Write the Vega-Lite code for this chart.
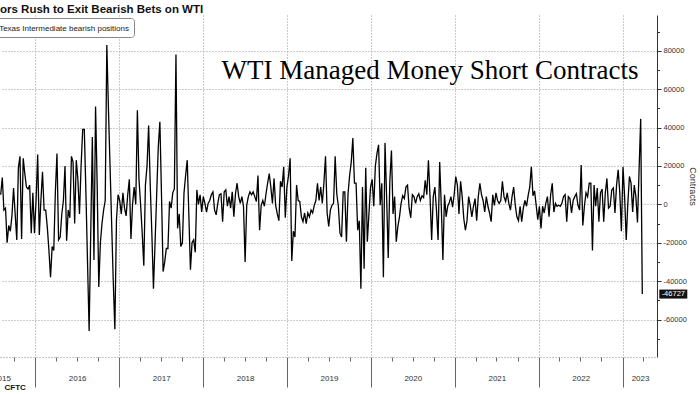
{
"$schema": "https://vega.github.io/schema/vega-lite/v6.json",
"width": 657, "height": 342,
"autosize": "none",
"padding": {"left": 0, "top": 15, "right": 43, "bottom": 37},
"background": "white",
"title": {"text": "ors Rush to Exit Bearish Bets on WTI", "anchor": "start", "frame": "group", "font": "Liberation Sans", "fontSize": 11.5, "fontWeight": "bold", "color": "#111", "baseline": "alphabetic", "offset": 1.5, "dy": 10.5},
"config": {"view": {"stroke": null}, "font": "Liberation Sans"},
"resolve": {"axis": {"x": "independent", "y": "independent"}},
"datasets": {
"wti": [
{"date":"2015-08-04","value":5000},{"date":"2015-08-11","value":14000},{"date":"2015-08-18","value":-3000},{"date":"2015-08-25","value":-2000},
{"date":"2015-09-01","value":-20000},{"date":"2015-09-08","value":-11000},{"date":"2015-09-15","value":-14000},{"date":"2015-09-22","value":-6000},{"date":"2015-09-29","value":8500},
{"date":"2015-10-06","value":-5000},{"date":"2015-10-13","value":-18500},{"date":"2015-10-20","value":19000},{"date":"2015-10-27","value":25000},
{"date":"2015-11-03","value":-18000},{"date":"2015-11-10","value":24000},{"date":"2015-11-17","value":16000},{"date":"2015-11-24","value":9000},
{"date":"2015-12-01","value":8000},{"date":"2015-12-08","value":10000},{"date":"2015-12-15","value":-15000},{"date":"2015-12-22","value":6000},{"date":"2015-12-29","value":-15000},
{"date":"2016-01-05","value":2000},{"date":"2016-01-12","value":26000},{"date":"2016-01-19","value":-16000},{"date":"2016-01-26","value":2000},
{"date":"2016-02-02","value":17000},{"date":"2016-02-09","value":-3000},{"date":"2016-02-16","value":-3000},{"date":"2016-02-23","value":-12000},
{"date":"2016-03-01","value":-24000},{"date":"2016-03-08","value":-38000},{"date":"2016-03-15","value":-22000},{"date":"2016-03-22","value":-24000},{"date":"2016-03-29","value":6500},
{"date":"2016-04-05","value":26500},{"date":"2016-04-12","value":-18500},{"date":"2016-04-19","value":-17000},{"date":"2016-04-26","value":-5000},
{"date":"2016-05-03","value":2000},{"date":"2016-05-10","value":20000},{"date":"2016-05-17","value":-19000},{"date":"2016-05-24","value":-3000},{"date":"2016-05-31","value":-7000},
{"date":"2016-06-07","value":25000},{"date":"2016-06-14","value":22000},{"date":"2016-06-21","value":-10000},{"date":"2016-06-28","value":23000},
{"date":"2016-07-05","value":13000},{"date":"2016-07-12","value":-5000},{"date":"2016-07-19","value":20000},{"date":"2016-07-26","value":39000},
{"date":"2016-08-02","value":39000},{"date":"2016-08-09","value":6000},{"date":"2016-08-16","value":-30000},{"date":"2016-08-23","value":-66000},{"date":"2016-08-30","value":-15000},
{"date":"2016-09-06","value":35000},{"date":"2016-09-13","value":-29000},{"date":"2016-09-20","value":51000},{"date":"2016-09-27","value":10000},
{"date":"2016-10-04","value":-43000},{"date":"2016-10-11","value":-20000},{"date":"2016-10-18","value":-10000},{"date":"2016-10-25","value":-3000},
{"date":"2016-11-01","value":2000},{"date":"2016-11-08","value":83000},{"date":"2016-11-15","value":50000},{"date":"2016-11-22","value":20000},{"date":"2016-11-29","value":-10000},
{"date":"2016-12-06","value":-40000},{"date":"2016-12-13","value":-65000},{"date":"2016-12-20","value":-8000},{"date":"2016-12-27","value":5000},
{"date":"2017-01-03","value":2000},{"date":"2017-01-10","value":-5000},{"date":"2017-01-17","value":6000},{"date":"2017-01-24","value":-2000},{"date":"2017-01-31","value":-6000},
{"date":"2017-02-07","value":5000},{"date":"2017-02-14","value":13000},{"date":"2017-02-21","value":-18000},{"date":"2017-02-28","value":0},
{"date":"2017-03-07","value":9000},{"date":"2017-03-14","value":0},{"date":"2017-03-21","value":49000},{"date":"2017-03-28","value":13000},
{"date":"2017-04-04","value":0},{"date":"2017-04-11","value":-15000},{"date":"2017-04-18","value":-32000},{"date":"2017-04-25","value":10000},
{"date":"2017-05-02","value":20000},{"date":"2017-05-09","value":41000},{"date":"2017-05-16","value":10000},{"date":"2017-05-23","value":-15000},{"date":"2017-05-30","value":-44000},
{"date":"2017-06-06","value":-20000},{"date":"2017-06-13","value":5000},{"date":"2017-06-20","value":30000},{"date":"2017-06-27","value":43000},
{"date":"2017-07-04","value":5000},{"date":"2017-07-11","value":-35000},{"date":"2017-07-18","value":-30000},{"date":"2017-07-25","value":-23000},
{"date":"2017-08-01","value":-23000},{"date":"2017-08-08","value":1500},{"date":"2017-08-15","value":-2000},{"date":"2017-08-22","value":6000},{"date":"2017-08-29","value":8000},
{"date":"2017-09-05","value":78000},{"date":"2017-09-12","value":-12500},{"date":"2017-09-19","value":-5000},{"date":"2017-09-26","value":-22000},
{"date":"2017-10-03","value":-20000},{"date":"2017-10-10","value":6000},{"date":"2017-10-17","value":15000},{"date":"2017-10-24","value":23000},{"date":"2017-10-31","value":-5000},
{"date":"2017-11-07","value":-34000},{"date":"2017-11-14","value":-20000},{"date":"2017-11-21","value":-18500},{"date":"2017-11-28","value":-25000},
{"date":"2017-12-05","value":7500},{"date":"2017-12-12","value":0},{"date":"2017-12-19","value":5000},{"date":"2017-12-26","value":-4000},
{"date":"2018-01-02","value":4000},{"date":"2018-01-09","value":500},{"date":"2018-01-16","value":-4000},{"date":"2018-01-23","value":500},{"date":"2018-01-30","value":2000},
{"date":"2018-02-06","value":5000},{"date":"2018-02-13","value":6500},{"date":"2018-02-20","value":-3000},{"date":"2018-02-27","value":-5500},
{"date":"2018-03-06","value":500},{"date":"2018-03-13","value":5000},{"date":"2018-03-20","value":5500},{"date":"2018-03-27","value":-9000},
{"date":"2018-04-03","value":6500},{"date":"2018-04-10","value":7500},{"date":"2018-04-17","value":-1000},{"date":"2018-04-24","value":4000},
{"date":"2018-05-01","value":-2000},{"date":"2018-05-08","value":6500},{"date":"2018-05-15","value":-6500},{"date":"2018-05-22","value":5500},{"date":"2018-05-29","value":11000},
{"date":"2018-06-05","value":4000},{"date":"2018-06-12","value":500},{"date":"2018-06-19","value":4000},{"date":"2018-06-26","value":-1000},
{"date":"2018-07-03","value":-30000},{"date":"2018-07-10","value":-500},{"date":"2018-07-17","value":4000},{"date":"2018-07-24","value":6500},{"date":"2018-07-31","value":5000},
{"date":"2018-08-07","value":6500},{"date":"2018-08-14","value":4000},{"date":"2018-08-21","value":1500},{"date":"2018-08-28","value":15000},
{"date":"2018-09-04","value":-13500},{"date":"2018-09-11","value":-500},{"date":"2018-09-18","value":2000},{"date":"2018-09-25","value":-1000},
{"date":"2018-10-02","value":5500},{"date":"2018-10-09","value":11000},{"date":"2018-10-16","value":16000},{"date":"2018-10-23","value":9000},{"date":"2018-10-30","value":500},
{"date":"2018-11-06","value":13500},{"date":"2018-11-13","value":-500},{"date":"2018-11-20","value":-5000},{"date":"2018-11-27","value":-8500},
{"date":"2018-12-04","value":12000},{"date":"2018-12-11","value":9000},{"date":"2018-12-18","value":19500},{"date":"2018-12-25","value":-7000},
{"date":"2019-01-01","value":9000},{"date":"2019-01-08","value":15000},{"date":"2019-01-15","value":24000},{"date":"2019-01-22","value":-29500},{"date":"2019-01-29","value":-14000},
{"date":"2019-02-05","value":-17000},{"date":"2019-02-12","value":10000},{"date":"2019-02-19","value":2000},{"date":"2019-02-26","value":1500},
{"date":"2019-03-05","value":-6500},{"date":"2019-03-12","value":-9000},{"date":"2019-03-19","value":-4500},{"date":"2019-03-26","value":-10000},
{"date":"2019-04-02","value":-4500},{"date":"2019-04-09","value":-6500},{"date":"2019-04-16","value":-3000},{"date":"2019-04-23","value":-4500},{"date":"2019-04-30","value":-500},
{"date":"2019-05-07","value":2000},{"date":"2019-05-14","value":11000},{"date":"2019-05-21","value":2000},{"date":"2019-05-28","value":9000},
{"date":"2019-06-04","value":500},{"date":"2019-06-11","value":11000},{"date":"2019-06-18","value":25000},{"date":"2019-06-25","value":-4500},
{"date":"2019-07-02","value":-11500},{"date":"2019-07-09","value":-3000},{"date":"2019-07-16","value":-500},{"date":"2019-07-23","value":500},{"date":"2019-07-30","value":25000},
{"date":"2019-08-06","value":5500},{"date":"2019-08-13","value":-1000},{"date":"2019-08-20","value":-15000},{"date":"2019-08-27","value":-17000},
{"date":"2019-09-03","value":6500},{"date":"2019-09-10","value":6500},{"date":"2019-09-17","value":-19500},{"date":"2019-09-24","value":5500},
{"date":"2019-10-01","value":15000},{"date":"2019-10-08","value":22000},{"date":"2019-10-15","value":34500},{"date":"2019-10-22","value":11000},{"date":"2019-10-29","value":11000},
{"date":"2019-11-05","value":-13500},{"date":"2019-11-12","value":-8500},{"date":"2019-11-19","value":-44000},{"date":"2019-11-26","value":9000},
{"date":"2019-12-03","value":-33500},{"date":"2019-12-10","value":19000},{"date":"2019-12-17","value":-19500},{"date":"2019-12-24","value":-5000},{"date":"2019-12-31","value":9000},
{"date":"2020-01-07","value":13000},{"date":"2020-01-14","value":-1000},{"date":"2020-01-21","value":20000},{"date":"2020-01-28","value":26500},
{"date":"2020-02-04","value":31000},{"date":"2020-02-11","value":-500},{"date":"2020-02-18","value":11000},{"date":"2020-02-25","value":-38000},
{"date":"2020-03-03","value":32000},{"date":"2020-03-10","value":4000},{"date":"2020-03-17","value":-28000},{"date":"2020-03-24","value":12000},{"date":"2020-03-31","value":28000},
{"date":"2020-04-07","value":-5000},{"date":"2020-04-14","value":4000},{"date":"2020-04-21","value":-19500},{"date":"2020-04-28","value":-11500},
{"date":"2020-05-05","value":-6500},{"date":"2020-05-12","value":500},{"date":"2020-05-19","value":4500},{"date":"2020-05-26","value":3000},
{"date":"2020-06-02","value":9000},{"date":"2020-06-09","value":10000},{"date":"2020-06-16","value":-2000},{"date":"2020-06-23","value":-7000},{"date":"2020-06-30","value":5000},
{"date":"2020-07-07","value":4000},{"date":"2020-07-14","value":500},{"date":"2020-07-21","value":4000},{"date":"2020-07-28","value":5500},
{"date":"2020-08-04","value":2000},{"date":"2020-08-11","value":4500},{"date":"2020-08-18","value":3500},{"date":"2020-08-25","value":12500},
{"date":"2020-09-01","value":5000},{"date":"2020-09-08","value":23000},{"date":"2020-09-15","value":4000},{"date":"2020-09-22","value":-18500},{"date":"2020-09-29","value":4000},
{"date":"2020-10-06","value":9000},{"date":"2020-10-13","value":-3000},{"date":"2020-10-20","value":-18500},{"date":"2020-10-27","value":22000},
{"date":"2020-11-03","value":-1000},{"date":"2020-11-10","value":-29000},{"date":"2020-11-17","value":5000},{"date":"2020-11-24","value":-6500},
{"date":"2020-12-01","value":-1000},{"date":"2020-12-08","value":1000},{"date":"2020-12-15","value":4000},{"date":"2020-12-22","value":-1500},{"date":"2020-12-29","value":5000},
{"date":"2021-01-05","value":14500},{"date":"2021-01-12","value":10000},{"date":"2021-01-19","value":-5000},{"date":"2021-01-26","value":12000},
{"date":"2021-02-02","value":4000},{"date":"2021-02-09","value":-7500},{"date":"2021-02-16","value":-13500},{"date":"2021-02-23","value":-8500},
{"date":"2021-03-02","value":4000},{"date":"2021-03-09","value":-500},{"date":"2021-03-16","value":-6500},{"date":"2021-03-23","value":-1000},{"date":"2021-03-30","value":3000},
{"date":"2021-04-06","value":-8500},{"date":"2021-04-13","value":4000},{"date":"2021-04-20","value":11000},{"date":"2021-04-27","value":5000},
{"date":"2021-05-04","value":2000},{"date":"2021-05-11","value":-4000},{"date":"2021-05-18","value":4000},{"date":"2021-05-25","value":-1000},
{"date":"2021-06-01","value":-4500},{"date":"2021-06-08","value":-9000},{"date":"2021-06-15","value":5000},{"date":"2021-06-22","value":-500},{"date":"2021-06-29","value":6000},
{"date":"2021-07-06","value":2000},{"date":"2021-07-13","value":500},{"date":"2021-07-20","value":2000},{"date":"2021-07-27","value":12000},
{"date":"2021-08-03","value":4000},{"date":"2021-08-10","value":1500},{"date":"2021-08-17","value":6000},{"date":"2021-08-24","value":500},{"date":"2021-08-31","value":-3000},
{"date":"2021-09-07","value":4000},{"date":"2021-09-14","value":9000},{"date":"2021-09-21","value":-500},{"date":"2021-09-28","value":-6500},
{"date":"2021-10-05","value":-8500},{"date":"2021-10-12","value":-1000},{"date":"2021-10-19","value":-9000},{"date":"2021-10-26","value":-2000},
{"date":"2021-11-02","value":2000},{"date":"2021-11-09","value":-1000},{"date":"2021-11-16","value":4500},{"date":"2021-11-23","value":9000},{"date":"2021-11-30","value":19500},
{"date":"2021-12-07","value":4500},{"date":"2021-12-14","value":7000},{"date":"2021-12-21","value":-500},{"date":"2021-12-28","value":-8000},
{"date":"2022-01-04","value":-1000},{"date":"2022-01-11","value":-12500},{"date":"2022-01-18","value":-1000},{"date":"2022-01-25","value":-4500},
{"date":"2022-02-01","value":500},{"date":"2022-02-08","value":4000},{"date":"2022-02-15","value":-6500},{"date":"2022-02-22","value":5000},
{"date":"2022-03-01","value":11000},{"date":"2022-03-08","value":-4000},{"date":"2022-03-15","value":500},{"date":"2022-03-22","value":-1000},{"date":"2022-03-29","value":-500},
{"date":"2022-04-05","value":-1000},{"date":"2022-04-12","value":500},{"date":"2022-04-19","value":4000},{"date":"2022-04-26","value":5000},
{"date":"2022-05-03","value":-9000},{"date":"2022-05-10","value":4000},{"date":"2022-05-17","value":3000},{"date":"2022-05-24","value":-4500},{"date":"2022-05-31","value":2000},
{"date":"2022-06-07","value":4000},{"date":"2022-06-14","value":5500},{"date":"2022-06-21","value":-500},{"date":"2022-06-28","value":-3000},
{"date":"2022-07-05","value":20500},{"date":"2022-07-12","value":-11000},{"date":"2022-07-19","value":-1000},{"date":"2022-07-26","value":6000},
{"date":"2022-08-02","value":4000},{"date":"2022-08-09","value":11000},{"date":"2022-08-16","value":11000},{"date":"2022-08-23","value":-24000},{"date":"2022-08-30","value":10000},
{"date":"2022-09-06","value":-1000},{"date":"2022-09-13","value":8500},{"date":"2022-09-20","value":-9000},{"date":"2022-09-27","value":6000},
{"date":"2022-10-04","value":8000},{"date":"2022-10-11","value":-9000},{"date":"2022-10-18","value":6000},{"date":"2022-10-25","value":13500},
{"date":"2022-11-01","value":-2000},{"date":"2022-11-08","value":-1000},{"date":"2022-11-15","value":7500},{"date":"2022-11-22","value":8500},{"date":"2022-11-29","value":-4500},
{"date":"2022-12-06","value":10000},{"date":"2022-12-13","value":18000},{"date":"2022-12-20","value":6000},{"date":"2022-12-27","value":-14000},
{"date":"2023-01-03","value":19500},{"date":"2023-01-10","value":4000},{"date":"2023-01-17","value":-18500},{"date":"2023-01-24","value":500},{"date":"2023-01-31","value":14500},
{"date":"2023-02-07","value":11000},{"date":"2023-02-14","value":-4000},{"date":"2023-02-21","value":10000},{"date":"2023-02-28","value":4000},
{"date":"2023-03-07","value":-9500},{"date":"2023-03-14","value":18000},{"date":"2023-03-21","value":44500},{"date":"2023-03-28","value":-46727}
],
"note": [{"date": "2023-03-11", "value": 65300, "label": "WTI Managed Money Short Contracts"}]
},
"layer": [
{
"data": {"name": "wti"},
"mark": {"type": "line", "strokeWidth": 1.3, "interpolate": "linear"},
"encoding": {
"x": {"field": "date", "type": "temporal",
 "scale": {"type": "utc", "domain": [{"year": 2015, "month": 8, "date": 1, "utc": true}, {"year": 2023, "month": 5, "date": 31, "utc": true}]},
 "axis": {
  "orient": "bottom",
  "title": "CFTC", "titleFont": "Liberation Sans", "titleFontSize": 8, "titleFontWeight": "bold", "titleColor": "#111",
  "titleAnchor": "start", "titleAlign": "left", "titleX": 4, "titleY": 30, "titleBaseline": "middle",
  "values": [
   {"year": 2015, "month": 8, "date": 1, "utc": true},
   {"year": 2016, "month": 1, "date": 1, "utc": true}, {"year": 2017, "month": 1, "date": 1, "utc": true},
   {"year": 2018, "month": 1, "date": 1, "utc": true}, {"year": 2019, "month": 1, "date": 1, "utc": true},
   {"year": 2020, "month": 1, "date": 1, "utc": true}, {"year": 2021, "month": 1, "date": 1, "utc": true},
   {"year": 2022, "month": 1, "date": 1, "utc": true}, {"year": 2023, "month": 1, "date": 1, "utc": true}
  ],
  "labelExpr": "utcmonth(datum.value) == 0 ? utcFormat(datum.value, '%Y') : '2015'",
  "labelFont": "Liberation Sans", "labelFontSize": 8, "labelColor": "#333",
  "labelOffset": {"condition": [{"test": "utcyear(datum.value) == 2015", "value": 1.5}, {"test": "utcyear(datum.value) == 2023", "value": 17.5}], "value": 42},
  "labelPadding": -13, "labelFlush": false, "labelOverlap": false, "labelBound": false,
  "tickSize": 30,
  "tickColor": "#666",
  "tickOpacity": {"condition": {"test": "utcyear(datum.value) == 2015", "value": 0}, "value": 1},
  "grid": true,
  "gridOpacity": {"condition": {"test": "utcyear(datum.value) == 2015", "value": 0}, "value": 1},
  "gridDash": [1, 2], "gridColor": "#999",
  "domainColor": "#888", "domainDash": [1, 2]
 }},
"y": {"field": "value", "type": "quantitative",
 "scale": {"domain": [-79500, 98600], "nice": false, "zero": false},
 "axis": {
  "orient": "right", "title": "Contracts", "titleFont": "Liberation Sans", "titleFontSize": 9, "titleFontWeight": "normal", "titleColor": "#333", "titlePadding": 1,
  "values": [-60000, -40000, -20000, 0, 20000, 40000, 60000, 80000],
  "format": "d",
  "labelExpr": "replace(datum.label, '\u2212', '-')",
  "labelFont": "Liberation Sans", "labelFontSize": 7.5, "labelColor": "#333", "labelPadding": 2, "labelOverlap": false, "labelFlush": false,
  "tickSize": 4,
  "tickColor": "#333", "domainColor": "#333",
  "grid": true,
  "gridDash": [1, 2], "gridColor": "#999"
 }},
"color": {"datum": "West Texas Intermediate bearish positions", "type": "nominal", "scale": {"range": ["#000000"]},
 "legend": {"orient": "none", "legendX": -42, "legendY": 3, "title": null, "labelFont": "Liberation Sans", "labelFontSize": 8, "labelColor": "#222", "labelLimit": 400, "symbolType": "stroke", "symbolStrokeWidth": 1.5, "symbolSize": 120, "strokeColor": "#888", "cornerRadius": 3, "padding": 4, "fillColor": "white"}}
}
},
{
"data": {"name": "note"},
"mark": {"type": "text", "align": "right", "baseline": "alphabetic", "font": "Liberation Serif", "fontSize": 27, "color": "#000"},
"encoding": {
"x": {"field": "date", "type": "temporal",
 "axis": {"orient": "bottom", "title": null, "labels": false, "domain": false, "grid": false, "tickSize": 4, "tickColor": "#666",
  "values": [
   {"year": 2015, "month": 10, "date": 1, "utc": true},
   {"year": 2016, "month": 4, "date": 1, "utc": true}, {"year": 2016, "month": 7, "date": 1, "utc": true}, {"year": 2016, "month": 10, "date": 1, "utc": true},
   {"year": 2017, "month": 4, "date": 1, "utc": true}, {"year": 2017, "month": 7, "date": 1, "utc": true}, {"year": 2017, "month": 10, "date": 1, "utc": true},
   {"year": 2018, "month": 4, "date": 1, "utc": true}, {"year": 2018, "month": 7, "date": 1, "utc": true}, {"year": 2018, "month": 10, "date": 1, "utc": true},
   {"year": 2019, "month": 4, "date": 1, "utc": true}, {"year": 2019, "month": 7, "date": 1, "utc": true}, {"year": 2019, "month": 10, "date": 1, "utc": true},
   {"year": 2020, "month": 4, "date": 1, "utc": true}, {"year": 2020, "month": 7, "date": 1, "utc": true}, {"year": 2020, "month": 10, "date": 1, "utc": true},
   {"year": 2021, "month": 4, "date": 1, "utc": true}, {"year": 2021, "month": 7, "date": 1, "utc": true}, {"year": 2021, "month": 10, "date": 1, "utc": true},
   {"year": 2022, "month": 4, "date": 1, "utc": true}, {"year": 2022, "month": 7, "date": 1, "utc": true}, {"year": 2022, "month": 10, "date": 1, "utc": true},
   {"year": 2023, "month": 4, "date": 1, "utc": true}
  ]}},
"y": {"field": "value", "type": "quantitative",
 "axis": {"orient": "right", "title": null, "labels": false, "domain": false, "grid": false, "tickSize": 2.5, "tickColor": "#333",
  "values": [-70000, -50000, -30000, -10000, 10000, 30000, 50000, 70000, 90000]}},
"text": {"field": "label"}
}
},
{
"data": {"name": "wti"},
"transform": [{"filter": "datum.value == -46727"}],
"mark": {"type": "tick", "orient": "horizontal", "xOffset": 31, "size": 28, "thickness": 9, "color": "#111", "opacity": 1},
"encoding": {
"x": {"field": "date", "type": "temporal", "axis": null},
"y": {"field": "value", "type": "quantitative", "axis": null}
}
},
{
"data": {"name": "wti"},
"transform": [{"filter": "datum.value == -46727"}],
"mark": {"type": "text", "dx": 31, "align": "center", "baseline": "middle", "color": "white", "fontSize": 7.5, "font": "Liberation Sans"},
"encoding": {
"x": {"field": "date", "type": "temporal", "axis": null},
"y": {"field": "value", "type": "quantitative", "axis": null},
"text": {"field": "value", "type": "nominal"}
}
}
]
}
